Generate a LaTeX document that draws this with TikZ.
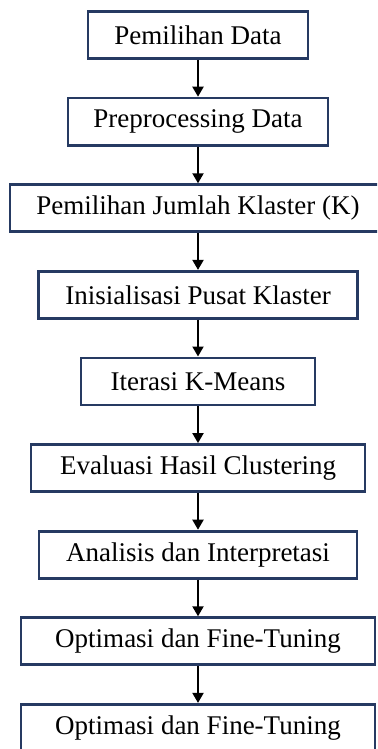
\documentclass[tikz,border=0pt]{standalone}
\usepackage{fontspec}
\setmainfont{Liberation Serif}
\usepackage{xcolor}
\usetikzlibrary{arrows.meta, positioning}

\definecolor{boxnavy}{RGB}{38,58,98}

\begin{document}
\begin{tikzpicture}[node distance=18.4pt, auto,
    stepbox/.style={rectangle, draw=boxnavy, fill=white, line width=1.4pt, text centered, minimum height=23.5pt, inner sep=2pt, font=\fontsize{13.5}{16}\selectfont},
    arrow/.style={draw=black, -{Triangle[length=5pt,width=5.5pt]}, line width=1pt}]

    % Frame
    \useasboundingbox (0,0) rectangle (188.5pt,-374.5pt);
    \clip (0,0) rectangle (188.5pt,-374.5pt);

    % Steps
    \node [stepbox, minimum width=110pt] at (99pt,-17.5pt) (data) {Pemilihan Data};
    \node [stepbox, minimum width=130pt, below=of data] (prep) {Preprocessing Data};
    \node [stepbox, minimum width=188pt, below=of prep] (jumlah) {Pemilihan Jumlah Klaster (K)};
    \node [stepbox, minimum width=159.5pt, below=of jumlah] (init) {Inisialisasi Pusat Klaster};
    \node [stepbox, minimum width=117pt, below=of init] (iter) {Iterasi K-Means};
    \node [stepbox, minimum width=167pt, below=of iter] (eval) {Evaluasi Hasil Clustering};
    \node [stepbox, minimum width=159pt, below=of eval] (anal) {Analisis dan Interpretasi};
    \node [stepbox, minimum width=177pt, below=of anal] (opt) {Optimasi dan Fine-Tuning};
    \node [stepbox, minimum width=177pt, below=of opt] (optb) {Optimasi dan Fine-Tuning};

    % Flow
    \draw [arrow] (data) -- (prep);
    \draw [arrow] (prep) -- (jumlah);
    \draw [arrow] (jumlah) -- (init);
    \draw [arrow] (init) -- (iter);
    \draw [arrow] (iter) -- (eval);
    \draw [arrow] (eval) -- (anal);
    \draw [arrow] (anal) -- (opt);
    \draw [arrow] (opt) -- (optb);

\end{tikzpicture}
\end{document}
